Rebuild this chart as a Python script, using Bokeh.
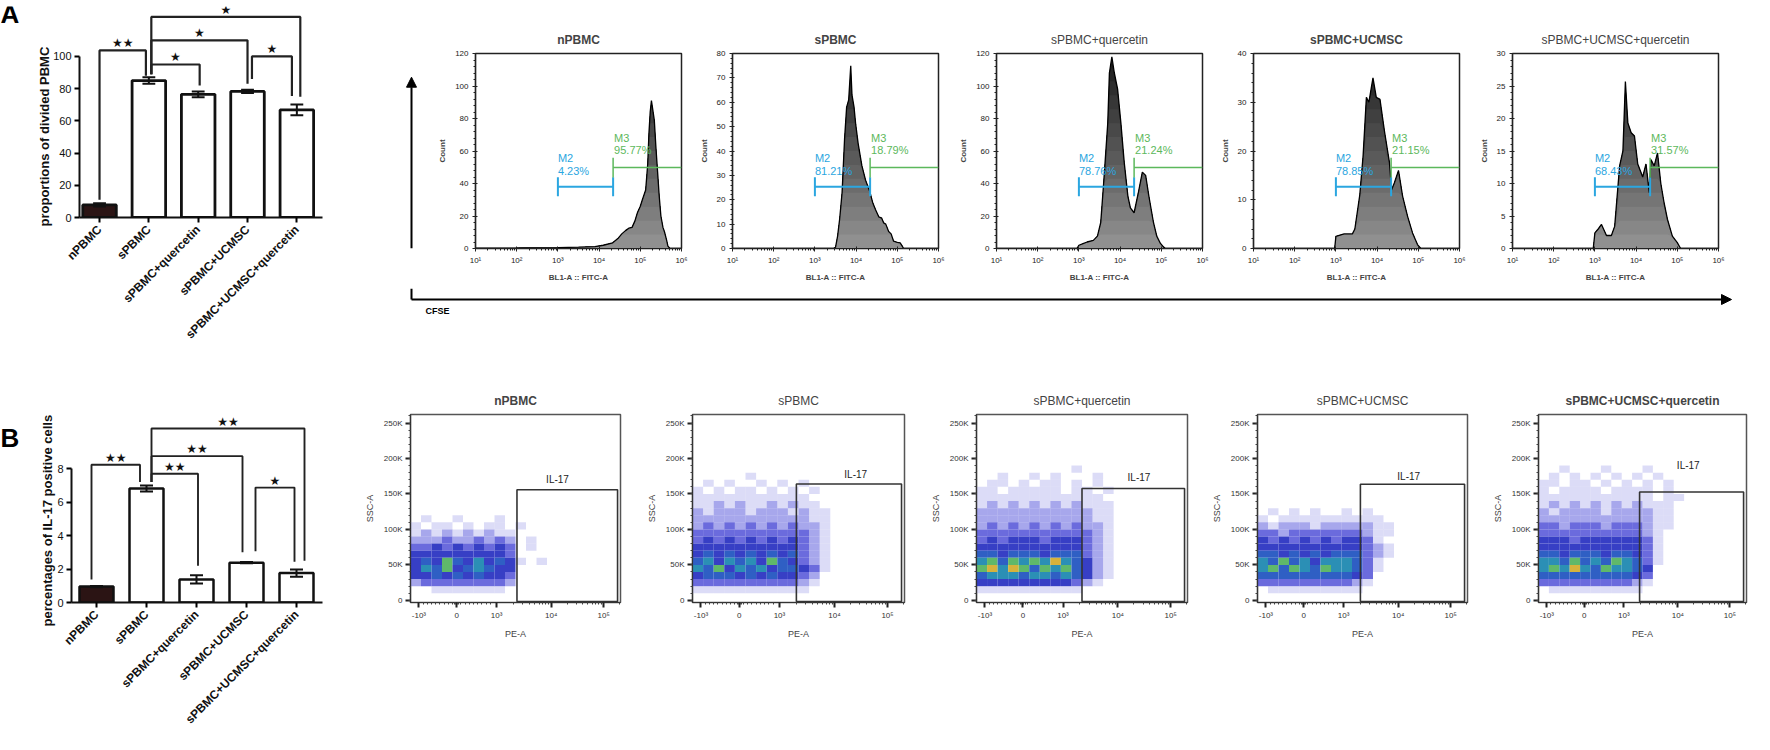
import math
from bokeh.plotting import figure
from bokeh.layouts import row, column
from bokeh.models import (Range1d, FixedTicker, SingleIntervalTicker, Title, Arrow,
                          NormalHead, CustomJSTickFormatter)
from bokeh.core.properties import value
from bokeh.embed import file_html
from bokeh.resources import INLINE

FONT = "Liberation Sans"
STAR_FONT = "DejaVu Sans"

# ---------------- data ----------------
groups = ["nPBMC", "sPBMC", "sPBMC+quercetin", "sPBMC+UCMSC", "sPBMC+UCMSC+quercetin"]

divided_mean = [7.8, 85.0, 76.5, 78.3, 66.8]
divided_sem = [1.0, 2.0, 1.8, 1.0, 3.3]

il17_mean = [0.95, 6.82, 1.38, 2.38, 1.76]
il17_sem = [0.04, 0.18, 0.25, 0.04, 0.22]

# significance brackets: (group i, group j, top, left leg end, right leg end, stars)
divided_sig = [
    (0, 1, 103.7, 11.0, 88.0, "★★"),
    (1, 2, 95.0, 89.0, 82.0, "★"),
    (1, 3, 110.0, 89.0, 83.0, "★"),
    (3, 4, 100.0, 86.0, 75.5, "★"),
    (1, 4, 124.5, 89.0, 75.0, "★"),
]
il17_sig = [
    (0, 1, 8.24, 1.38, 7.2, "★★"),
    (1, 2, 7.7, 7.2, 2.2, "★★"),
    (1, 3, 8.75, 7.2, 3.0, "★★"),
    (3, 4, 6.87, 3.06, 2.43, "★"),
    (1, 4, 10.4, 7.2, 2.5, "★★"),
]

# CFSE histograms (log10 fluorescence, count)
cfse_log_n = [1.0, 2.0, 3.0, 3.5, 3.9, 4.1, 4.33, 4.47, 4.55, 4.64, 4.72, 4.80, 4.87, 4.93, 5.0, 5.05,
              5.13, 5.18, 5.21, 5.24, 5.27, 5.30, 5.34, 5.38, 5.42, 5.46, 5.50, 5.55, 5.59, 5.64, 5.67, 5.72, 6.0]
cfse_cnt_n = [0.2, 0.3, 0.6, 0.8, 1.2, 2.0, 3.5, 6.5, 9, 11, 12.5, 13, 17, 22, 26, 30,
              36, 52, 71, 84, 91, 86, 79, 62, 47, 32, 20, 13, 10, 5, 1.5, 0, 0]

cfse_log_s = [1.0, 3.45, 3.5, 3.55, 3.6, 3.66, 3.72, 3.77, 3.82, 3.87, 3.9, 3.95, 3.99, 4.05, 4.14, 4.23,
              4.33, 4.4, 4.47, 4.55, 4.62, 4.67, 4.72, 4.79, 4.85, 4.91, 5.0, 5.07, 5.12, 5.15, 6.0]
cfse_cnt_s = [0, 0, 0.5, 5, 12, 23, 45, 58, 61, 75, 63, 58, 51, 43, 34, 28,
              23.5, 19, 16, 13, 12.5, 10.5, 10, 7, 6, 3, 2.5, 2.3, 1, 0, 0]

cfse_log_q = [1.0, 2.95, 3.0, 3.1, 3.2, 3.35, 3.45, 3.53, 3.6, 3.7, 3.74, 3.8, 3.86, 3.94, 4.02, 4.1,
              4.19, 4.25, 4.34, 4.44, 4.54, 4.62, 4.70, 4.81, 4.89, 4.97, 5.05, 5.1, 6.0]
cfse_cnt_q = [0, 0, 2, 3, 4, 5, 7.6, 16, 40, 77, 108, 118, 108, 98, 77, 53,
              32, 25, 22, 34, 47, 45, 32, 16, 7.6, 3.5, 1, 0, 0]

cfse_log_u = [1.0, 2.97, 3.0, 3.2, 3.4, 3.46, 3.58, 3.66, 3.74, 3.8, 3.86, 3.9, 3.98, 4.07, 4.18, 4.3,
              4.35, 4.42, 4.52, 4.62, 4.74, 4.86, 4.98, 5.06, 6.0]
cfse_cnt_u = [0, 0, 2.5, 3, 3, 4, 11, 19, 31, 30, 33, 35, 31, 30.6, 24, 17.6,
              12, 13.5, 16, 10.7, 6.6, 3.2, 0.8, 0, 0]

cfse_log_uq = [1.0, 2.96, 3.0, 3.08, 3.16, 3.28, 3.4, 3.48, 3.6, 3.68, 3.74, 3.8, 3.88, 3.96, 4.04, 4.16,
               4.24, 4.32, 4.36, 4.44, 4.52, 4.6, 4.68, 4.76, 4.88, 5.0, 5.08, 6.0]
cfse_cnt_uq = [0, 0, 2.4, 3, 3.7, 2, 2, 3.4, 12.7, 15, 25.7, 19.3, 17.8, 17.3, 13, 11,
               13, 8.6, 13.7, 12.7, 14.7, 10, 7, 4.5, 1.9, 0.9, 0, 0]

cfse_logs = [cfse_log_n, cfse_log_s, cfse_log_q, cfse_log_u, cfse_log_uq]
cfse_counts = [cfse_cnt_n, cfse_cnt_s, cfse_cnt_q, cfse_cnt_u, cfse_cnt_uq]
hist_ymax = [120, 80, 120, 40, 30]
hist_ystep = [20, 10, 20, 10, 5]
m2_pct = ["4.23%", "81.21%", "78.76%", "78.85%", "68.43%"]
m3_pct = ["95.77%", "18.79%", "21.24%", "21.15%", "31.57%"]
m2_start_log = 3.0
gate_split_log = 4.34

# IL-17 dot plots: density level per 10K row (top row = 190K..200K), 20 columns over the display range
dens_n = [
    "00000000000000000000", "00000000000000000000", "00000000000000000000", "00000000000000000000",
    "00000000000000000000", "00000000000000000000", "00000000000000000000", "00000000000000000000",
    "01001000100000000000", "10110101101000000000", "12121212110000000000", "22232232320100000000",
    "33434343430100000000", "44444444430000000000", "45475464541010000000", "46574565440000000000",
    "44545454430000000000", "23333333320000000000", "00111111100000000000", "00000000000000000000",
]
dens_s = [
    "00000000000000000000", "00000000000000000000", "00000100000000000000", "01010010101000000000",
    "10101101010100000000", "11111111111000000000", "11212112121100000000", "21222122212110000000",
    "22222222222110000000", "23232323232210000000", "33333333333210000000", "34343434343210000000",
    "44444444443210000000", "45454545453210000000", "56465647543210000000", "65746564554310000000",
    "45554545443200000000", "33333333332100000000", "11111111111000000000", "00000000000000000000",
]
dens_q = [
    "00000000000000000000", "00000000010000000000", "00100101000100000000", "01101011010100000000",
    "11011111011010000000", "11111111111100000000", "12121212121110000000", "22222222222110000000",
    "22222222222110000000", "23232323232210000000", "33333333333210000000", "34344434443210000000",
    "44444444443210000000", "55455545553210000000", "67576768654210000000", "78687576754210000000",
    "56665665654210000000", "44444444432100000000", "11111111110000000000", "00000000000000000000",
]
dens_u = [
    "00000000000000000000", "00000000000000000000", "00000000000000000000", "00000000000000000000",
    "00000000000000000000", "00000000000000000000", "00000000000000000000", "01010100101000000000",
    "10111111111100000000", "21222122222110000000", "33233333332110000000", "43434343443100000000",
    "44444444443210000000", "55454545553210000000", "65756466653100000000", "67576576653100000000",
    "55555555543000000000", "33333333321000000000", "01111111110000000000", "00000000000000000000",
]
dens_uq = [
    "00000000000000000000", "00100010001000000000", "01010101010100000000", "11011010101010000000",
    "10111101111010000000", "11111111111011000000", "12121212121110000000", "21222212222110000000",
    "22222222222110000000", "33233323332110000000", "33333333332100000000", "44434444443100000000",
    "44444444443100000000", "55455545543100000000", "66575657653100000000", "67686576654000000000",
    "55555555543000000000", "33333333321000000000", "01111111110000000000", "00000000000000000000",
]
dens_all = [dens_n, dens_s, dens_q, dens_u, dens_uq]
il17_gate_left = [50.7, 49.0, 50.0, 49.0, 48.6]
il17_gate_top = [156000, 164000, 157600, 163600, 152800]
il17_label_x = [70, 77, 77, 72, 72]
il17_label_y = [170000, 178000, 173000, 175000, 190000]
pe_ticks = [4, 22, 41, 67, 92]
pe_labels = ["-10³", "0", "10³", "10⁴", "10⁵"]
ssc_ticks = [0, 50000, 100000, 150000, 200000, 250000]
ssc_labels = ["0", "50K", "100K", "150K", "200K", "250K"]

level_colors = [None, "#9a9ae8", "#6c6ce0", "#4646d4", "#2c35c2", "#2f5fc4", "#2b8fb5", "#5fb86a", "#d6b23c"]
level_alpha = [0, 0.35, 0.6, 0.8, 0.95, 1, 1, 1, 1]

M2C = "#2ba6e0"
M3C = "#5cb85c"

# smooth grey shading of the histogram fill (light at the baseline, dark at the top)
N_SHADE = 14
shade_colors = []
for k in range(N_SHADE):
    g = int(round(0x90 - (0x90 - 0x1c) * k / (N_SHADE - 1)))
    shade_colors.append("#%02x%02x%02x" % (g, g, g))


def clean(p):
    p.xgrid.visible = False
    p.ygrid.visible = False
    p.background_fill_color = "white"
    p.border_fill_color = "white"


def blank_fig(width, height):
    p = figure(width=width, height=height, x_range=Range1d(0, width), y_range=Range1d(height, 0),
               x_axis_type=None, y_axis_type=None, output_backend="svg", toolbar_location=None,
               min_border=0, min_border_left=0, min_border_right=0, min_border_top=0, min_border_bottom=0)
    clean(p)
    p.outline_line_color = None
    return p


def letter_fig(letter, height, y):
    p = blank_fig(30, height)
    p.text(x=[0], y=[y], text=[letter], text_font=value(FONT), text_font_size="26px",
           text_font_style="bold", text_align="left", text_baseline="middle", text_color="black")
    return p


# ---------------- bar charts ----------------
def bar_chart(means, sems, sig, leg_shift, ylabel, y_axis_max, y_step, y_top,
              x_lo, x_hi, width, height, b_left, b_right, b_top, b_bottom,
              label_offset, label_standoff, lw):
    p = figure(width=width, height=height, x_range=Range1d(x_lo, x_hi), y_range=Range1d(0, y_top),
               output_backend="svg", toolbar_location=None,
               min_border_left=b_left, min_border_right=b_right,
               min_border_top=b_top, min_border_bottom=b_bottom)
    clean(p)
    p.outline_line_color = None
    xs = list(range(len(groups)))
    fills = ["#2b1414"] + ["white"] * (len(groups) - 1)
    p.vbar(x=xs, top=means, width=0.68, fill_color=fills, line_color="#111111", line_width=lw)
    lo = [m - e for m, e in zip(means, sems)]
    hi = [m + e for m, e in zip(means, sems)]
    p.segment(x0=xs, y0=lo, x1=xs, y1=hi, line_color="#111111", line_width=2)
    p.segment(x0=[x - 0.13 for x in xs], y0=hi, x1=[x + 0.13 for x in xs], y1=hi,
              line_color="#111111", line_width=2)
    p.segment(x0=[x - 0.13 for x in xs], y0=lo, x1=[x + 0.13 for x in xs], y1=lo,
              line_color="#111111", line_width=2)
    bx, by, sx, sy, st = [], [], [], [], []
    for (i, j, top, lend, rend, stars), (dl, dr) in zip(sig, leg_shift):
        xl, xr = i + dl, j + dr
        bx.append([xl, xl, xr, xr])
        by.append([lend, top, top, rend])
        sx.append((xl + xr) / 2)
        sy.append(top)
        st.append(stars)
    p.multi_line(xs=bx, ys=by, line_color="#222222", line_width=lw - 0.6)
    p.text(x=sx, y=sy, text=st, text_font=value(STAR_FONT), text_font_size="12px",
           text_align="center", text_baseline="bottom", text_color="#111111")

    p.yaxis.bounds = (0, y_axis_max)
    p.yaxis.ticker = SingleIntervalTicker(interval=y_step, num_minor_ticks=0)
    p.xaxis.ticker = FixedTicker(ticks=xs)
    p.xaxis.major_label_overrides = {i: g for i, g in enumerate(groups)}
    p.xaxis.major_label_orientation = math.pi / 4
    for ax in (p.xaxis, p.yaxis):
        ax.axis_line_width = 2
        ax.axis_line_color = "#111111"
        ax.major_tick_line_width = 2
        ax.major_tick_out = 5
        ax.major_tick_in = 0
        ax.minor_tick_line_color = None
        ax.major_label_text_font = FONT
        ax.major_label_text_color = "#111111"
    p.xaxis.major_label_text_font_size = "12px"
    p.xaxis.major_label_text_font_style = "bold"
    p.yaxis.major_label_text_font_size = "11px"
    p.yaxis.major_label_standoff = 3

    p.add_layout(Title(text=ylabel, align="left", offset=label_offset, standoff=label_standoff,
                       text_font=FONT, text_font_size="13px", text_font_style="bold",
                       text_color="#111111"), "left")
    return p


letterA = letter_fig("A", 352, 12)
barA = bar_chart(divided_mean, divided_sem, divided_sig,
                 [(0.0, -0.06), (0.05, 0.03), (0.05, 0.0), (0.09, -0.1), (0.05, 0.07)],
                 "proportions of divided PBMC", 100, 20, 131, -0.406, 4.52,
                 307, 352, 49, 15, 6, 135, -9, -3, 2.8)
letterB = letter_fig("B", 382, 48)
barB = bar_chart(il17_mean, il17_sem, il17_sig,
                 [(-0.1, -0.13), (0.1, 0.03), (0.1, -0.08), (0.18, -0.04), (0.1, 0.16)],
                 "percentages of IL-17 positive cells", 8, 2, 11.24, -0.5, 4.52,
                 331, 382, 41, 39, 20, 126, -24, -1, 2.5)

# ---------------- CFSE histograms ----------------
sup_fmt = CustomJSTickFormatter(code="""
const sup = {1:'\u00b9', 2:'\u00b2', 3:'\u00b3', 4:'\u2074', 5:'\u2075', 6:'\u2076'};
const e = Math.round(Math.log10(tick));
return '10' + sup[e];
""")


def hist_panel(i, b_left, b_right, bold_title):
    ymax = hist_ymax[i]
    frame_w = 206
    p = figure(width=b_left + frame_w + b_right, height=288, x_axis_type="log",
               x_range=Range1d(10, 1e6), y_range=Range1d(0, ymax),
               output_backend="svg", toolbar_location=None,
               min_border_left=b_left, min_border_right=b_right,
               min_border_top=53, min_border_bottom=40, title=groups[i])
    clean(p)
    p.title.align = "center"
    p.title.text_font = FONT
    p.title.text_font_size = "12px"
    p.title.text_font_style = "bold" if bold_title else "normal"
    p.title.standoff = 13
    xs = [10 ** v for v in cfse_logs[i]]
    cnt = cfse_counts[i]
    # darkest layer first (full height), lighter layers drawn over the lower part
    for k in range(N_SHADE - 1, -1, -1):
        hi_b = ymax * (k + 1) / N_SHADE
        p.varea(x=xs, y1=0, y2=[min(c, hi_b) for c in cnt], fill_color=shade_colors[k])
    p.line(xs, cnt, line_color="black", line_width=1.3)

    gx = 10 ** gate_split_log
    x2 = 10 ** m2_start_log
    m2y = 0.317 * ymax
    m3y = 0.415 * ymax
    t2 = 0.049 * ymax
    t3 = 0.051 * ymax
    p.segment(x0=[x2, x2, gx], y0=[m2y, m2y - t2, m2y - t2], x1=[gx, x2, gx], y1=[m2y, m2y + t2, m2y + t2],
              line_color=M2C, line_width=2)
    p.segment(x0=[gx, gx], y0=[m3y, m3y - t3], x1=[1e6, gx], y1=[m3y, m3y + t3],
              line_color=M3C, line_width=1.5)
    p.text(x=[x2, x2], y=[m2y, m2y], text=["M2", m2_pct[i]], y_offset=[-29, -16],
           text_font=value(FONT), text_font_size="11px", text_color=M2C,
           text_align="left", text_baseline="middle")
    p.text(x=[gx, gx], y=[m3y, m3y], text=["M3", m3_pct[i]], y_offset=[-30, -18], x_offset=1,
           text_font=value(FONT), text_font_size="11px", text_color=M3C,
           text_align="left", text_baseline="middle")

    p.xaxis.ticker = FixedTicker(ticks=[10 ** k for k in range(1, 7)],
                                 minor_ticks=[m * 10 ** k for k in range(1, 6) for m in range(2, 10)])
    p.xaxis.formatter = sup_fmt
    p.xaxis.axis_label = "BL1-A :: FITC-A"
    p.yaxis.axis_label = "Count"
    p.yaxis.ticker = SingleIntervalTicker(interval=hist_ystep[i], num_minor_ticks=5)
    for ax in (p.xaxis, p.yaxis):
        ax.axis_line_width = 1.2
        ax.axis_line_color = "#222222"
        ax.major_tick_out = 3
        ax.major_tick_in = 2
        ax.minor_tick_out = 2
        ax.minor_tick_in = 0
        ax.major_tick_line_color = "#222222"
        ax.minor_tick_line_color = "#222222"
        ax.major_label_text_font = FONT
        ax.major_label_text_font_size = "8px"
        ax.major_label_text_color = "#222222"
        ax.major_label_standoff = 4
        ax.axis_label_text_font = FONT
        ax.axis_label_text_font_size = "8px"
        ax.axis_label_text_font_style = "bold"
        ax.axis_label_standoff = 5
    p.outline_line_color = "#222222"
    p.outline_line_width = 1.5
    return p


h1 = hist_panel(0, 50, 8, True)
h2 = hist_panel(1, 43, 8, True)
h3 = hist_panel(2, 50, 8, False)
h4 = hist_panel(3, 43, 8, True)
h5 = hist_panel(4, 45, 36, False)

vfig = blank_fig(88, 288)
vfig.add_layout(Arrow(end=NormalHead(size=10, fill_color="black", line_color="black"),
                      x_start=74, y_start=288, x_end=74, y_end=35, line_width=2, line_color="black"))

cfse_fig = blank_fig(1417, 64)
cfse_fig.segment(x0=[74], y0=[0], x1=[74], y1=[11], line_color="black", line_width=2)
cfse_fig.add_layout(Arrow(end=NormalHead(size=10, fill_color="black", line_color="black"),
                          x_start=74, y_start=11, x_end=1394, y_end=11, line_width=2, line_color="black"))
cfse_fig.text(x=[88], y=[22], text=["CFSE"], text_font=value(FONT), text_font_size="9px",
              text_font_style="bold", text_baseline="middle", text_align="left")


# ---------------- IL-17 dot plots ----------------
def scatter_panel(i, b_left, frame_w, b_right, bold_title):
    p = figure(width=b_left + frame_w + b_right, height=382, x_range=Range1d(0, 100),
               y_range=Range1d(-3000, 262000), output_backend="svg", toolbar_location=None,
               min_border_left=b_left, min_border_right=b_right, min_border_top=62,
               min_border_bottom=99, title=groups[i])
    clean(p)
    p.title.align = "center"
    p.title.text_font = FONT
    p.title.text_font_size = "12px"
    p.title.text_font_style = "bold" if bold_title else "normal"
    p.title.standoff = 14
    grid = dens_all[i]
    nrows = len(grid)
    cx, cy, cc, ca = [], [], [], []
    for r, line in enumerate(grid):
        ylo = (nrows - 1 - r) * 10000
        for c, ch in enumerate(line):
            lv = int(ch)
            if lv:
                cx.append(c * 5 + 2.5)
                cy.append(ylo + 5000)
                cc.append(level_colors[lv])
                ca.append(level_alpha[lv])
    p.rect(x=cx, y=cy, width=5, height=10000, fill_color=cc, fill_alpha=ca, line_color=None)
    p.quad(left=[il17_gate_left[i]], right=[98.6], bottom=[-1500], top=[il17_gate_top[i]],
           fill_color=None, line_color="#333333", line_width=1.6)
    p.text(x=[il17_label_x[i]], y=[il17_label_y[i]], text=["IL-17"], text_font=value(FONT),
           text_font_size="10px", text_align="center", text_baseline="middle", text_color="#222222")

    minor = [6, 8, 10, 12, 14, 16, 18, 20, 21, 21.5, 22.5, 23, 24, 26, 28, 30, 32, 34, 36, 38]
    minor += [41 + 26 * math.log10(k) for k in range(2, 10)]
    minor += [67 + 25 * math.log10(k) for k in range(2, 10)]
    minor += [92 + 25 * math.log10(2)]
    p.xaxis.ticker = FixedTicker(ticks=pe_ticks, minor_ticks=minor)
    p.xaxis.major_label_overrides = {t: l for t, l in zip(pe_ticks, pe_labels)}
    p.yaxis.ticker = FixedTicker(ticks=ssc_ticks, minor_ticks=list(range(0, 260001, 10000)))
    p.yaxis.major_label_overrides = {t: l for t, l in zip(ssc_ticks, ssc_labels)}
    p.xaxis.axis_label = "PE-A"
    p.yaxis.axis_label = "SSC-A"
    for ax in (p.xaxis, p.yaxis):
        ax.axis_line_width = 1.2
        ax.axis_line_color = "#333333"
        ax.major_tick_out = 5
        ax.major_tick_in = 0
        ax.major_tick_line_width = 2
        ax.minor_tick_out = 2
        ax.minor_tick_in = 0
        ax.major_tick_line_color = "#222222"
        ax.minor_tick_line_color = "#444444"
        ax.major_label_text_font = FONT
        ax.major_label_text_font_size = "8px"
        ax.major_label_text_color = "#333333"
        ax.major_label_standoff = 3
        ax.axis_label_text_font = FONT
        ax.axis_label_text_font_size = "9px"
        ax.axis_label_text_font_style = "normal"
        ax.axis_label_standoff = 6
    p.outline_line_color = "#555555"
    p.outline_line_width = 1.5
    return p


s1 = scatter_panel(0, 44, 215, 23, True)
s2 = scatter_panel(1, 44, 217, 23, False)
s3 = scatter_panel(2, 44, 216, 21, False)
s4 = scatter_panel(3, 44, 215, 22, False)
s5 = scatter_panel(4, 44, 213, 8, True)

rowA = row(letterA, barA, column(row(vfig, h1, h2, h3, h4, h5), cfse_fig))
rowB = row(letterB, barB, s1, s2, s3, s4, s5)
layout = column(rowA, rowB)

open("out.html", "w").write(file_html(layout, INLINE))
